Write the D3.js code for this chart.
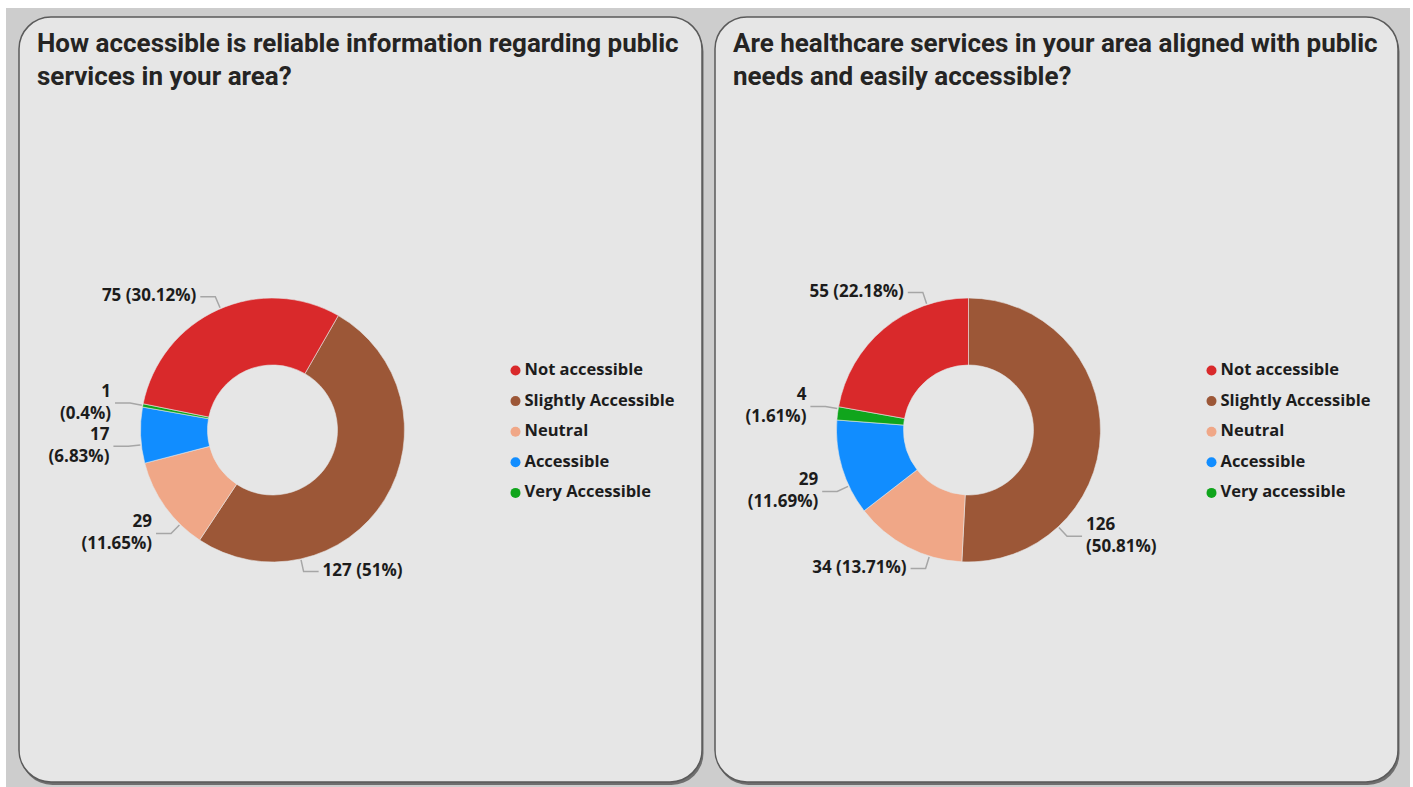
<!DOCTYPE html>
<html>
<head>
<meta charset="utf-8">
<script src="https://cdn.jsdelivr.net/npm/d3@7"></script>
<style>
  body { margin: 0; background: #ffffff; }
  svg { display: block; }
</style>
</head>
<body>
<div id="chart"></div>
<script>
// survey answers, legend order
var categoriesInfo = ["Not accessible", "Slightly Accessible", "Neutral", "Accessible", "Very Accessible"];
var categoriesHealth = ["Not accessible", "Slightly Accessible", "Neutral", "Accessible", "Very accessible"];
var infoCounts = [75, 127, 29, 17, 1];
var healthCounts = [55, 126, 34, 29, 4];
var titleInfo = ["How accessible is reliable information regarding public", "services in your area?"];
var titleHealth = ["Are healthcare services in your area aligned with public", "needs and easily accessible?"];
var colors = ["#d9292b", "#9c5737", "#f0a787", "#118dff", "#10a51c"];

// order slices are drawn in (clockwise), and where on each slice the leader sits
var sliceOrder = [1, 2, 3, 4, 0];
var charts = [
  { cats: categoriesInfo, counts: infoCounts, title: titleInfo, px: 19, rot: 29.9, frac: [0.75, 0.26, 0.33, 0.5, 0.51] },
  { cats: categoriesHealth, counts: healthCounts, title: titleHealth, px: 715, rot: 0, frac: [0.75, 0.29, 0.30, 0.85, 0.77] }
];

var width = 1413, height = 787;
var svg = d3.select("#chart").append("svg")
  .attr("width", width)
  .attr("height", height);

// grey frame behind both cards
svg.append("rect")
  .attr("x", 6).attr("y", 8)
  .attr("width", 1404).attr("height", 779)
  .attr("fill", "#cdcdcd");

var panelW = 683, panelH = 765, panelY = 17;
var outerR = 132, innerR = 65;
var pct = d3.format(".2~f");

charts.forEach(function (c) {
  var g = svg.append("g");

  g.append("rect")
    .attr("x", c.px + 1.5).attr("y", panelY + 3)
    .attr("width", panelW).attr("height", panelH)
    .attr("rx", 32).attr("ry", 32)
    .attr("fill", "#6e6e6e");
  g.append("rect")
    .attr("x", c.px).attr("y", panelY)
    .attr("width", panelW).attr("height", panelH)
    .attr("rx", 32).attr("ry", 32)
    .attr("fill", "#e6e6e6")
    .attr("stroke", "#5a5a5a")
    .attr("stroke-width", 1.5);

  g.selectAll(".title").data(c.title).enter()
    .append("text")
    .attr("x", c.px + 18)
    .attr("y", function (d, i) { return panelY + 28 + i * 33; })
    .attr("dominant-baseline", "middle")
    .style("font-family", "Roboto, 'DejaVu Sans Condensed', sans-serif")
    .style("font-weight", 700)
    .style("font-size", "26px")
    .attr("fill", "#252423")
    .text(function (d) { return d; });

  var cx = c.px + 253.5, cy = 430;
  var total = d3.sum(c.counts);
  var rot = c.rot * Math.PI / 180;

  var pie = d3.pie()
    .sort(null)
    .value(function (d) { return c.counts[d]; })
    .startAngle(rot)
    .endAngle(rot + 2 * Math.PI);

  var arc = d3.arc().innerRadius(innerR).outerRadius(outerR);
  var arcs = pie(sliceOrder);

  var donut = g.append("g").attr("transform", "translate(" + cx + "," + cy + ")");

  donut.selectAll("path.slice").data(arcs).enter()
    .append("path")
    .attr("class", "slice")
    .attr("d", arc)
    .attr("fill", function (d) { return colors[d.data]; })
    .attr("stroke", "#e6e6e6")
    .attr("stroke-width", 0.6);

  // labels with elbow leader lines
  arcs.forEach(function (d, i) {
    var a = d.startAngle + (d.endAngle - d.startAngle) * c.frac[i];
    var s = Math.sin(a), co = -Math.cos(a);
    var p0 = [s * (outerR + 1), co * (outerR + 1)];
    var p1 = [s * (outerR + 13), co * (outerR + 13)];
    var side = s < 0 ? -1 : 1;
    var p2 = [p1[0] + side * 15, p1[1]];

    donut.append("polyline")
      .attr("points", [p0, p1, p2].map(function (p) { return p.join(","); }).join(" "))
      .attr("fill", "none")
      .attr("stroke", "#a6a6a6")
      .attr("stroke-width", 1.5);

    var v = c.counts[d.data];
    var lines = [v + " (" + pct(v / total * 100) + "%)"];
    if (Math.abs(s) > 0.5) lines = [String(v), "(" + pct(v / total * 100) + "%)"];

    donut.selectAll(null).data(lines).enter()
      .append("text")
      .attr("x", p2[0] + side * 4)
      .attr("y", function (t, j) { return lines.length === 1 ? p2[1] : p2[1] - 11 + j * 22; })
      .attr("dominant-baseline", "middle")
      .attr("text-anchor", side < 0 ? "end" : "start")
      .style("font-family", "'Open Sans', 'Noto Sans', sans-serif")
      .style("font-weight", 700)
      .style("font-size", "17px")
      .attr("fill", "#1c1c1c")
      .text(function (t) { return t; });
  });

  // legend
  var legend = g.append("g").attr("transform", "translate(" + (cx + 243) + "," + 370.5 + ")");
  var item = legend.selectAll("g").data(c.cats).enter()
    .append("g")
    .attr("transform", function (d, i) { return "translate(0," + (i * 30.6) + ")"; });
  item.append("circle")
    .attr("r", 5)
    .attr("fill", function (d, i) { return colors[i]; });
  item.append("text")
    .attr("x", 9)
    .attr("dominant-baseline", "middle")
    .style("font-family", "'Open Sans', 'Noto Sans', sans-serif")
    .style("font-weight", 700)
    .style("font-size", "16.5px")
    .attr("fill", "#1c1c1c")
    .text(function (d) { return d; });
});
</script>
</body>
</html>
